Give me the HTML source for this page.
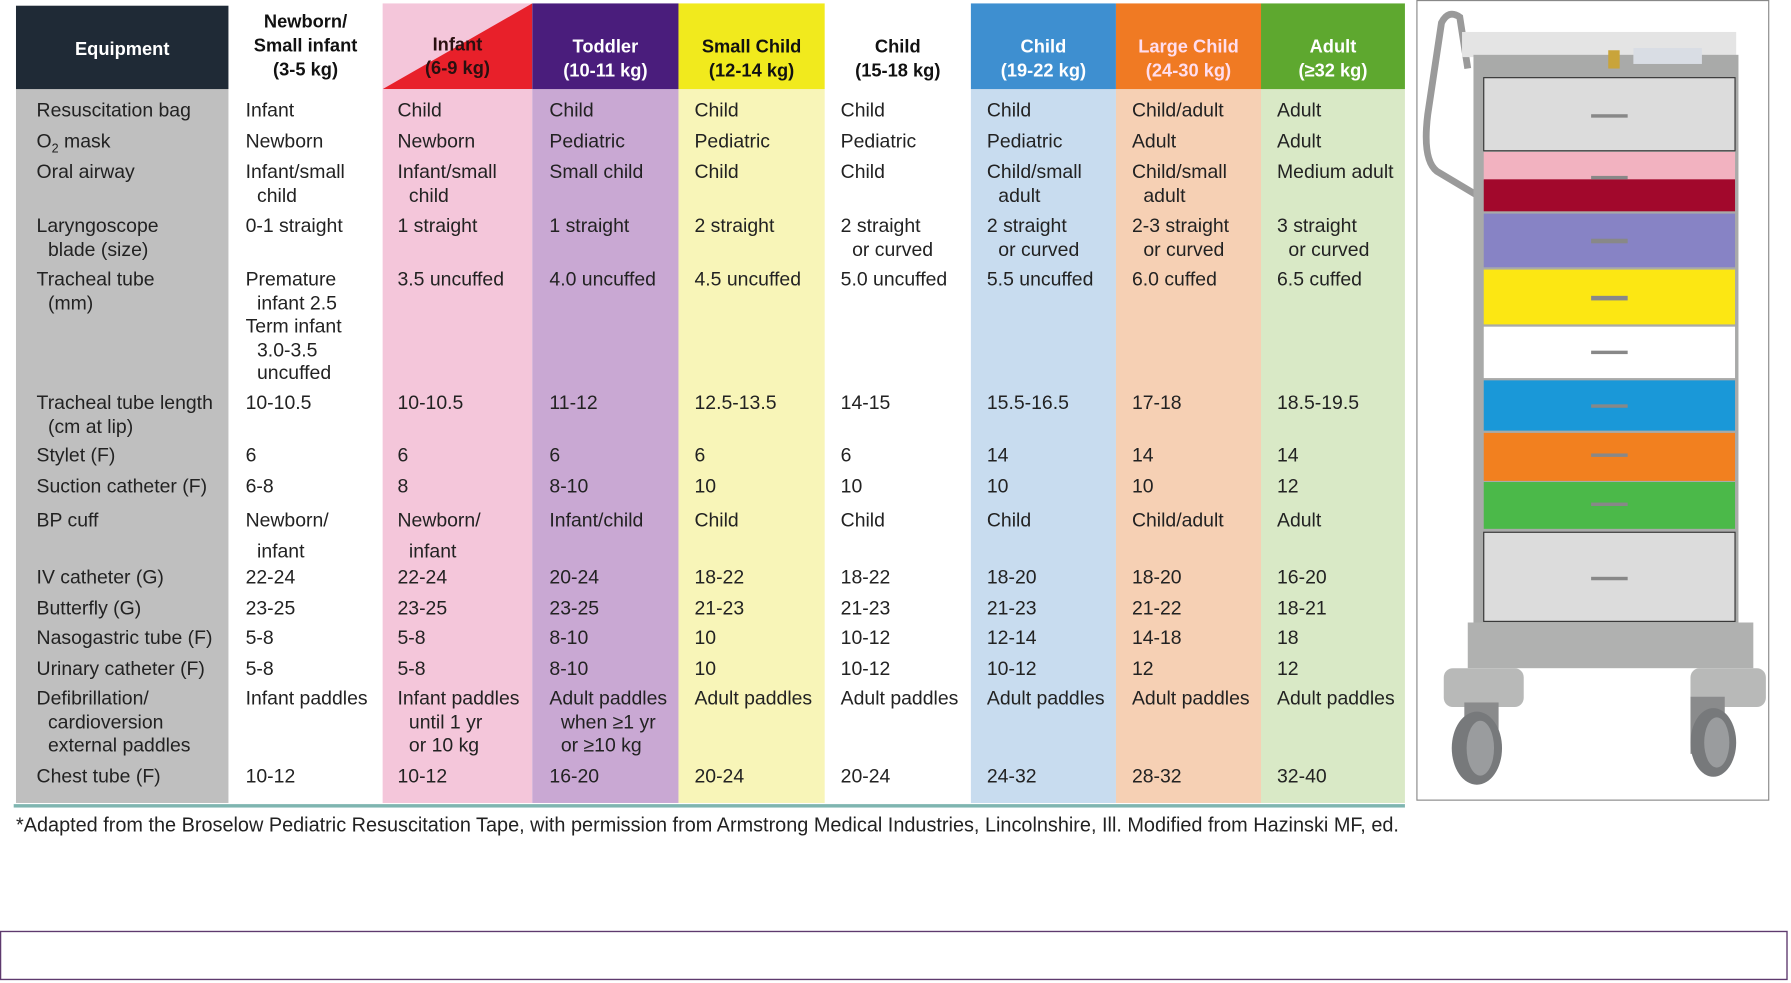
<!DOCTYPE html>
<html><head><meta charset="utf-8">
<style>
html,body{margin:0;padding:0;background:#fff;}
body{width:1791px;height:983px;overflow:hidden;position:relative;}
#w{position:absolute;left:0;top:0;width:1568px;height:861px;transform:scale(1.14222);transform-origin:0 0;font-family:"Liberation Sans",sans-serif;color:#222;}
.col{position:absolute;top:78px;height:625px;}
.hd{position:absolute;top:3px;height:75px;font-weight:bold;font-size:16px;line-height:21px;text-align:center;display:flex;align-items:center;justify-content:center;padding-top:4px;box-sizing:border-box;}
.r{position:absolute;left:0;width:1240px;font-size:17px;line-height:20.5px;letter-spacing:0px;}
.r div{position:absolute;top:0;white-space:nowrap;}
.a{left:32px}.b{left:215px}.c{left:348px}.d{left:481px}.e{left:608px}.f{left:736px}.g{left:864px}.h{left:991px}.k{left:1118px}
.i{padding-left:10px}
</style></head><body><div id="w">
<div class="col" style="left:14px;width:186px;background:#bfbfbf"></div>
<div class="col" style="left:335px;width:131px;background:#f4c6da"></div>
<div class="col" style="left:466px;width:128px;background:#c9a8d3"></div>
<div class="col" style="left:594px;width:128px;background:#f8f5b8"></div>
<div class="col" style="left:850px;width:127px;background:#c8dcef"></div>
<div class="col" style="left:977px;width:127px;background:#f6d0b4"></div>
<div class="col" style="left:1104px;width:126px;background:#d9e9c6"></div>
<div class="hd" style="left:14px;top:5px;height:73px;width:186px;background:#1f2a36;color:#fff;">Equipment</div>
<div class="hd" style="left:200px;width:135px;color:#111;padding-top:0">Newborn/<br>Small infant<br>(3-5 kg)</div>
<div class="hd" style="left:335px;width:131px;background:#f4c6da;padding:0;">
<svg width="131" height="75" style="position:absolute;left:0;top:0"><polygon points="0,75 131,75 131,0" fill="#e8202a"/></svg>
<span style="position:relative;padding-top:18px;color:#2a1010">Infant<br>(6-9 kg)</span></div>
<div class="hd" style="left:466px;width:128px;background:#4a1d7c;color:#fff;padding-top:22px">Toddler<br>(10-11 kg)</div>
<div class="hd" style="left:594px;width:128px;background:#f1ea1d;color:#111;padding-top:22px">Small Child<br>(12-14 kg)</div>
<div class="hd" style="left:722px;width:128px;color:#111;padding-top:22px">Child<br>(15-18 kg)</div>
<div class="hd" style="left:850px;width:127px;background:#3e8fd0;color:#fff;padding-top:22px">Child<br>(19-22 kg)</div>
<div class="hd" style="left:977px;width:127px;background:#f07a23;color:#fde;padding-top:22px">Large Child<br>(24-30 kg)</div>
<div class="hd" style="left:1104px;width:126px;background:#5ea82f;color:#fff;padding-top:22px">Adult<br>(≥32 kg)</div>
<div class="r" style="top:87px"><div class="a">Resuscitation bag</div><div class="b">Infant</div><div class="c">Child</div><div class="d">Child</div><div class="e">Child</div><div class="f">Child</div><div class="g">Child</div><div class="h">Child/adult</div><div class="k">Adult</div></div>
<div class="r" style="top:114px"><div class="a">O<sub style="font-size:11px">2</sub> mask</div><div class="b">Newborn</div><div class="c">Newborn</div><div class="d">Pediatric</div><div class="e">Pediatric</div><div class="f">Pediatric</div><div class="g">Pediatric</div><div class="h">Adult</div><div class="k">Adult</div></div>
<div class="r" style="top:141px"><div class="a">Oral airway</div><div class="b">Infant/small<br><span class="i">child</span></div><div class="c">Infant/small<br><span class="i">child</span></div><div class="d">Small child</div><div class="e">Child</div><div class="f">Child</div><div class="g">Child/small<br><span class="i">adult</span></div><div class="h">Child/small<br><span class="i">adult</span></div><div class="k">Medium adult</div></div>
<div class="r" style="top:188px"><div class="a">Laryngoscope<br><span class="i">blade (size)</span></div><div class="b">0-1 straight</div><div class="c">1 straight</div><div class="d">1 straight</div><div class="e">2 straight</div><div class="f">2 straight<br><span class="i">or curved</span></div><div class="g">2 straight<br><span class="i">or curved</span></div><div class="h">2-3 straight<br><span class="i">or curved</span></div><div class="k">3 straight<br><span class="i">or curved</span></div></div>
<div class="r" style="top:235px"><div class="a">Tracheal tube<br><span class="i">(mm)</span></div><div class="b">Premature<br><span class="i">infant 2.5</span><br>Term infant<br><span class="i">3.0-3.5</span><br><span class="i">uncuffed</span></div><div class="c">3.5 uncuffed</div><div class="d">4.0 uncuffed</div><div class="e">4.5 uncuffed</div><div class="f">5.0 uncuffed</div><div class="g">5.5 uncuffed</div><div class="h">6.0 cuffed</div><div class="k">6.5 cuffed</div></div>
<div class="r" style="top:343px"><div class="a">Tracheal tube length<br><span class="i">(cm at lip)</span></div><div class="b">10-10.5</div><div class="c">10-10.5</div><div class="d">11-12</div><div class="e">12.5-13.5</div><div class="f">14-15</div><div class="g">15.5-16.5</div><div class="h">17-18</div><div class="k">18.5-19.5</div></div>
<div class="r" style="top:389px"><div class="a">Stylet (F)</div><div class="b">6</div><div class="c">6</div><div class="d">6</div><div class="e">6</div><div class="f">6</div><div class="g">14</div><div class="h">14</div><div class="k">14</div></div>
<div class="r" style="top:416px"><div class="a">Suction catheter (F)</div><div class="b">6-8</div><div class="c">8</div><div class="d">8-10</div><div class="e">10</div><div class="f">10</div><div class="g">10</div><div class="h">10</div><div class="k">12</div></div>
<div class="r" style="top:442px;line-height:27px"><div class="a">BP cuff</div><div class="b">Newborn/<br><span class="i">infant</span></div><div class="c">Newborn/<br><span class="i">infant</span></div><div class="d">Infant/child</div><div class="e">Child</div><div class="f">Child</div><div class="g">Child</div><div class="h">Child/adult</div><div class="k">Adult</div></div>
<div class="r" style="top:496px"><div class="a">IV catheter (G)</div><div class="b">22-24</div><div class="c">22-24</div><div class="d">20-24</div><div class="e">18-22</div><div class="f">18-22</div><div class="g">18-20</div><div class="h">18-20</div><div class="k">16-20</div></div>
<div class="r" style="top:523px"><div class="a">Butterfly (G)</div><div class="b">23-25</div><div class="c">23-25</div><div class="d">23-25</div><div class="e">21-23</div><div class="f">21-23</div><div class="g">21-23</div><div class="h">21-22</div><div class="k">18-21</div></div>
<div class="r" style="top:549px"><div class="a">Nasogastric tube (F)</div><div class="b">5-8</div><div class="c">5-8</div><div class="d">8-10</div><div class="e">10</div><div class="f">10-12</div><div class="g">12-14</div><div class="h">14-18</div><div class="k">18</div></div>
<div class="r" style="top:576px"><div class="a">Urinary catheter (F)</div><div class="b">5-8</div><div class="c">5-8</div><div class="d">8-10</div><div class="e">10</div><div class="f">10-12</div><div class="g">10-12</div><div class="h">12</div><div class="k">12</div></div>
<div class="r" style="top:602px"><div class="a">Defibrillation/<br><span class="i">cardioversion</span><br><span class="i">external paddles</span></div><div class="b">Infant paddles</div><div class="c">Infant paddles<br><span class="i">until 1 yr</span><br><span class="i">or 10 kg</span></div><div class="d">Adult paddles<br><span class="i">when ≥1 yr</span><br><span class="i">or ≥10 kg</span></div><div class="e">Adult paddles</div><div class="f">Adult paddles</div><div class="g">Adult paddles</div><div class="h">Adult paddles</div><div class="k">Adult paddles</div></div>
<div class="r" style="top:670px"><div class="a">Chest tube (F)</div><div class="b">10-12</div><div class="c">10-12</div><div class="d">16-20</div><div class="e">20-24</div><div class="f">20-24</div><div class="g">24-32</div><div class="h">28-32</div><div class="k">32-40</div></div>
<div style="position:absolute;left:12px;top:704px;width:1218px;height:3px;background:#7fb5b0"></div>
<div style="position:absolute;left:14px;top:712px;font-size:17.4px;letter-spacing:0px;white-space:nowrap;color:#222">*Adapted from the Broselow Pediatric Resuscitation Tape, with permission from Armstrong Medical Industries, Lincolnshire, Ill. Modified from Hazinski MF, ed.</div>
<svg style="position:absolute;left:0;top:0" width="1568" height="861">
<rect x="1240.5" y="0.5" width="308" height="700" fill="#fff" stroke="#888"/>
<path d="M1300,175 L1258,150 Q1245,140 1250,100 L1262,20 Q1268,8 1278,15 L1285,60" fill="none" stroke="#9a9a9a" stroke-width="6"/>
<rect x="1280" y="28" width="240" height="22" fill="#e4e4e4"/>
<rect x="1290" y="48" width="232" height="530" fill="#a9aaa9"/>
<rect x="1430" y="42" width="60" height="14" fill="#d9dde4"/>
<rect x="1408" y="44" width="10" height="16" fill="#c9a43a"/>
<rect x="1299" y="68" width="220" height="64" fill="#dcdcdc" stroke="#333"/>
<rect x="1299" y="133" width="220" height="25" fill="#f2b2c0"/>
<rect x="1299" y="157" width="220" height="28" fill="#a2082c"/>
<rect x="1299" y="187" width="220" height="47" fill="#8783c5"/>
<rect x="1299" y="236" width="220" height="48" fill="#fce713"/>
<rect x="1299" y="286" width="220" height="45" fill="#fff"/>
<rect x="1299" y="333" width="220" height="44" fill="#1a98d8"/>
<rect x="1299" y="379" width="220" height="42" fill="#f2801f"/>
<rect x="1299" y="422" width="220" height="41" fill="#4bb949"/>
<rect x="1299" y="466" width="220" height="78" fill="#dcdcdc" stroke="#333"/>
<g fill="#888"><rect x="1393" y="100" width="32" height="3"/><rect x="1393" y="154" width="32" height="3"/><rect x="1393" y="209" width="32" height="4"/><rect x="1393" y="259" width="32" height="4"/><rect x="1393" y="307" width="32" height="3"/><rect x="1393" y="354" width="32" height="3"/><rect x="1393" y="397" width="32" height="3"/><rect x="1393" y="440" width="32" height="3"/><rect x="1393" y="505" width="32" height="3"/></g>
<rect x="1285" y="545" width="250" height="40" fill="#b0b1b0"/>
<rect x="1264" y="585" width="70" height="34" rx="8" fill="#b8b9b8"/>
<rect x="1480" y="585" width="66" height="34" rx="8" fill="#b8b9b8"/>
<rect x="1282" y="615" width="30" height="50" fill="#8a8b8c"/>
<ellipse cx="1293" cy="655" rx="22" ry="32" fill="#77797b"/>
<ellipse cx="1296" cy="655" rx="12" ry="24" fill="#9a9c9e"/>
<rect x="1480" y="610" width="30" height="50" fill="#8a8b8c"/>
<ellipse cx="1500" cy="650" rx="20" ry="30" fill="#77797b"/>
<ellipse cx="1503" cy="650" rx="11" ry="22" fill="#9a9c9e"/>
<rect x="0.5" y="815.5" width="1564" height="42" fill="none" stroke="#5e3a6e" stroke-width="1.2"/>
</svg>
</div></body></html>
